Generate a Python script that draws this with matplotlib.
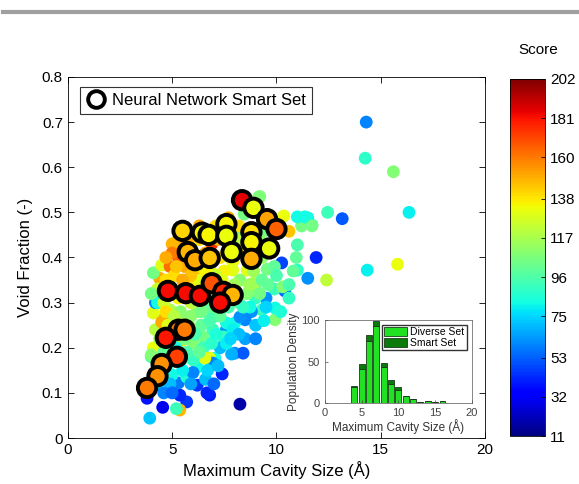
import numpy as np
import matplotlib
matplotlib.use('Agg')
import matplotlib.pyplot as plt
from matplotlib.lines import Line2D
from matplotlib.patches import Patch

plt.rcParams['font.family'] = ['Liberation Sans', 'DejaVu Sans']

# diverse set: cavity size (A), void fraction, score
cavity = [14.3, 14.25, 15.6, 16.35, 15.8, 14.35, 13.15, 12.45, 11.9, 11.5, 12.4, 11.7, 11.2, 11.35, 11.0,
          11.0, 10.95, 11.0, 10.25, 10.35, 10.6, 9.55, 10.4, 9.15, 8.45, 9.9, 10.3, 9.5, 9.0, 8.6,
          9.0, 9.93, 9.3, 9.93, 8.8, 8.5, 8.0, 7.6, 7.05, 6.8, 8.0, 8.4, 7.4, 8.25, 6.8,
          6.67, 6.2, 5.7, 5.37, 5.3, 4.55, 5.37, 5.2, 3.8, 3.93, 8.1, 8.6, 7.9, 7.6, 8.9,
          8.25, 7.9, 6.9, 6.0, 4.9, 4.9, 5.5, 6.2, 6.95, 7.6, 8.25, 8.73, 5.5, 6.0, 6.5,
          6.95, 7.45, 7.9, 5.2, 6.5, 7.3, 6.2, 6.95, 6.57, 6.0, 5.7, 5.0, 4.75, 4.0, 4.27,
          4.2, 4.55, 4.1, 4.2, 4.27, 4.4, 4.1, 4.5, 4.9, 5.3, 5.37, 6.1, 4.3, 4.5, 4.1,
          4.0, 7.85, 5.3, 5.0, 5.9, 6.9, 7.2, 8.2, 7.7, 9.2, 9.1, 11.5, 11.7,
          6.5, 7.0, 6.7, 5.9, 5.3, 5.8, 7.2, 6.3, 5.1, 7.5, 8.0, 8.2, 7.7, 6.4, 5.8,
          5.0, 5.4, 6.9, 7.6, 5.7, 6.3, 4.7, 4.6, 4.5, 9.3, 9.9, 8.9, 9.3, 10.0, 8.3,
          7.3, 6.6, 6.3, 5.6, 9.5, 10.6, 9.0, 7.3, 6.1, 5.4, 4.9, 6.0, 6.6, 7.0,
          4.4, 4.6, 4.8, 4.7, 5.1, 5.2, 5.6, 5.9, 6.1, 6.4, 6.8, 7.1, 7.0, 7.4, 7.8,
          8.1, 8.4, 8.7, 9.2, 9.6, 6.2, 6.6, 7.1, 7.4, 5.9, 5.5, 5.2, 4.7, 4.3, 4.0,
          4.6, 5.5, 6.7, 7.2, 5.9, 4.3, 4.6, 5.0, 8.5, 8.2, 7.8, 9.0, 9.4, 10.2, 10.6,
          10.8, 5.0, 4.7, 5.8, 6.3, 7.1, 8.1, 9.2, 9.5]
void = [0.70, 0.62, 0.59, 0.50, 0.385, 0.372, 0.486, 0.50, 0.40, 0.354, 0.35, 0.472, 0.47, 0.49, 0.49,
        0.428, 0.40, 0.372, 0.388, 0.492, 0.458, 0.374, 0.326, 0.534, 0.496, 0.33, 0.335, 0.31, 0.31, 0.32,
        0.33, 0.262, 0.284, 0.288, 0.28, 0.262, 0.255, 0.24, 0.177, 0.177, 0.188, 0.188, 0.142, 0.075, 0.095,
        0.10, 0.117, 0.08, 0.095, 0.122, 0.068, 0.062, 0.065, 0.088, 0.044, 0.45, 0.372, 0.39, 0.33, 0.343,
        0.35, 0.372, 0.366, 0.361, 0.332, 0.284, 0.268, 0.28, 0.268, 0.255, 0.268, 0.29, 0.217, 0.21, 0.224,
        0.24, 0.224, 0.24, 0.20, 0.20, 0.20, 0.157, 0.166, 0.177, 0.173, 0.135, 0.14, 0.162, 0.18, 0.20,
        0.24, 0.262, 0.277, 0.30, 0.313, 0.354, 0.366, 0.383, 0.38, 0.40, 0.412, 0.357, 0.30, 0.257, 0.20,
        0.184, 0.186, 0.44, 0.43, 0.43, 0.43, 0.44, 0.47, 0.488, 0.535, 0.46, 0.488, 0.47,
        0.33, 0.31, 0.29, 0.30, 0.31, 0.34, 0.33, 0.35, 0.36, 0.37, 0.34, 0.30, 0.29, 0.25, 0.25,
        0.24, 0.28, 0.21, 0.21, 0.19, 0.19, 0.22, 0.30, 0.33, 0.40, 0.38, 0.37, 0.35, 0.36, 0.42,
        0.40, 0.41, 0.44, 0.38, 0.29, 0.31, 0.25, 0.27, 0.23, 0.17, 0.12, 0.145, 0.13, 0.12,
        0.22, 0.19, 0.25, 0.28, 0.27, 0.23, 0.22, 0.27, 0.30, 0.28, 0.26, 0.23, 0.29, 0.30, 0.31,
        0.32, 0.29, 0.34, 0.32, 0.34, 0.38, 0.37, 0.36, 0.35, 0.36, 0.35, 0.38, 0.35, 0.33, 0.32,
        0.14, 0.15, 0.15, 0.16, 0.12, 0.12, 0.10, 0.10, 0.22, 0.23, 0.22, 0.22, 0.26, 0.28, 0.34,
        0.37, 0.41, 0.40, 0.45, 0.47, 0.47, 0.44, 0.44, 0.46]
score = [60, 88, 108, 80, 132, 80, 52, 92, 42, 62, 122, 96, 105, 82, 82,
         95, 100, 88, 48, 132, 145, 105, 55, 107, 105, 92, 108, 62, 90, 108,
         110, 108, 92, 82, 62, 60, 82, 62, 82, 130, 62, 52, 42, 18, 40,
         42, 45, 45, 42, 58, 30, 148, 92, 38, 72, 95, 130, 132, 150, 118,
         108, 130, 132, 150, 130, 118, 118, 108, 92, 82, 62, 82, 140, 108, 105,
         92, 90, 80, 82, 92, 70, 82, 60, 130, 90, 85, 82, 80, 95, 132,
         120, 150, 130, 60, 85, 150, 105, 130, 162, 165, 178, 150, 82, 150, 132,
         108, 68, 150, 148, 150, 175, 148, 140, 150, 107, 120, 82, 105,
         120, 110, 100, 125, 135, 140, 130, 130, 140, 135, 115, 100, 95, 100, 115,
         125, 110, 88, 80, 95, 100, 110, 125, 120, 112, 100, 115, 100, 95, 140,
         140, 150, 140, 150, 75, 90, 72, 100, 95, 85, 70, 60, 70, 55,
         115, 100, 130, 140, 120, 100, 105, 110, 120, 105, 95, 85, 100, 110, 100,
         105, 90, 115, 105, 100, 140, 135, 125, 130, 145, 150, 145, 140, 125, 105,
         85, 80, 75, 70, 65, 75, 60, 55, 65, 70, 75, 60, 80, 85, 95,
         100, 160, 150, 150, 150, 140, 120, 110, 105]

# neural network smart set
smart_cavity = [8.35, 8.9, 9.55, 10.0, 5.5, 6.43, 6.75, 7.6, 7.6, 8.8, 8.8, 9.65, 7.85, 8.8, 5.75, 6.1, 6.8,
                4.8, 5.66, 6.33, 6.9, 7.45, 7.9, 7.3, 5.3, 5.6, 4.7, 5.23, 4.5, 4.3, 3.8]
smart_void = [0.527, 0.51, 0.485, 0.463, 0.459, 0.455, 0.45, 0.474, 0.448, 0.456, 0.434, 0.42, 0.412, 0.397,
              0.412, 0.394, 0.399,
              0.326, 0.321, 0.315, 0.343, 0.324, 0.317, 0.30, 0.24, 0.24, 0.222, 0.18, 0.164, 0.137, 0.111]
smart_score = [185, 132, 152, 165, 142, 135, 135, 135, 132, 140, 135, 132, 132, 150, 148, 150, 145,
               182, 182, 182, 168, 178, 148, 182, 160, 160, 180, 172, 155, 155, 160]

cb_ticks = [11, 32, 53, 75, 96, 117, 138, 160, 181, 202]

# inset histogram
bins = [4, 5, 6, 7, 8, 9, 10, 11, 12, 13, 14, 15, 16]
diverse_counts = [20, 41, 75, 93, 43, 23, 16, 9, 5, 2, 3, 1, 3]
smart_counts = [1, 6, 7, 6, 5, 5, 4, 0, 0, 0, 0, 0, 0]

fig = plt.figure(figsize=(5.79, 4.84), dpi=100)
fig.add_artist(Line2D([0.005, 1.0], [0.975, 0.975], transform=fig.transFigure,
                      color='#a0a0a0', lw=3))

ax = fig.add_axes([0.117, 0.095, 0.721, 0.746])
sc = ax.scatter(cavity, void, c=score, cmap='jet', vmin=11, vmax=202, s=85, linewidths=0, zorder=2)
ax.scatter(smart_cavity, smart_void, c=smart_score, cmap='jet', vmin=11, vmax=202, s=175,
           edgecolors='black', linewidths=2.8, zorder=3)
ax.set_xlim(0, 20)
ax.set_ylim(0, 0.8)
ax.set_xticks([0, 5, 10, 15, 20])
ax.set_yticks(np.arange(0, 0.81, 0.1))
ax.set_yticklabels(['0', '0.1', '0.2', '0.3', '0.4', '0.5', '0.6', '0.7', '0.8'])
ax.tick_params(direction='in', top=True, right=True, labelsize=11, length=4, width=0.6)
for s in ax.spines.values():
    s.set_linewidth(0.6)
ax.set_xlabel('Maximum Cavity Size (Å)', fontsize=12, labelpad=3)
ax.set_ylabel('Void Fraction (-)', fontsize=12, labelpad=6)

h = Line2D([], [], marker='o', linestyle='none', markerfacecolor='white',
           markeredgecolor='black', markersize=12, markeredgewidth=2.8)
leg = ax.legend([h], ['Neural Network Smart Set'], loc='upper left',
                bbox_to_anchor=(0.029, 0.972), borderaxespad=0, fontsize=12, fancybox=False,
                edgecolor='#333333', framealpha=1, handletextpad=0.4, borderpad=0.35,
                handlelength=1.2)
leg.get_frame().set_linewidth(0.8)

cax = fig.add_axes([0.880, 0.099, 0.062, 0.738])
cb = fig.colorbar(sc, cax=cax, ticks=cb_ticks)
cb.ax.set_yticklabels([str(t) for t in cb_ticks])
cb.ax.tick_params(direction='in', labelsize=11, length=3, width=0.6)
cb.outline.set_linewidth(0.6)
fig.text(0.929, 0.897, 'Score', ha='center', va='center', fontsize=11)

ins = fig.add_axes([0.561, 0.167, 0.254, 0.172])
ins.set_facecolor('white')
ins.bar(bins, diverse_counts, width=0.8, color='#22e022', edgecolor='#1a3a1a', linewidth=0.6)
ins.bar(bins, smart_counts, width=0.8, bottom=diverse_counts, color='#0a7a0a',
        edgecolor='#1a3a1a', linewidth=0.6)
ins.set_xlim(0, 20)
ins.set_ylim(0, 100)
ins.set_xticks([0, 5, 10, 15, 20])
ins.set_yticks([0, 50, 100])
ins.tick_params(direction='in', labelsize=8, length=2, width=0.5, colors='#444444')
for s in ins.spines.values():
    s.set_linewidth(0.5)
    s.set_color('#555555')
ins.set_xlabel('Maximum Cavity Size (Å)', fontsize=8.5, labelpad=1, color='#333333')
ins.set_ylabel('Population Density', fontsize=8.5, labelpad=1, color='#333333')
ins.legend([Patch(facecolor='#22e022', edgecolor='#1a3a1a', lw=0.6),
            Patch(facecolor='#0a7a0a', edgecolor='#1a3a1a', lw=0.6)],
           ['Diverse Set', 'Smart Set'], loc='upper right', fontsize=7.5, fancybox=False,
           edgecolor='#333333', framealpha=1, handlelength=2.2, handleheight=0.9,
           borderpad=0.2, labelspacing=0.1, handletextpad=0.3)

fig.savefig('out.png', dpi=100)
